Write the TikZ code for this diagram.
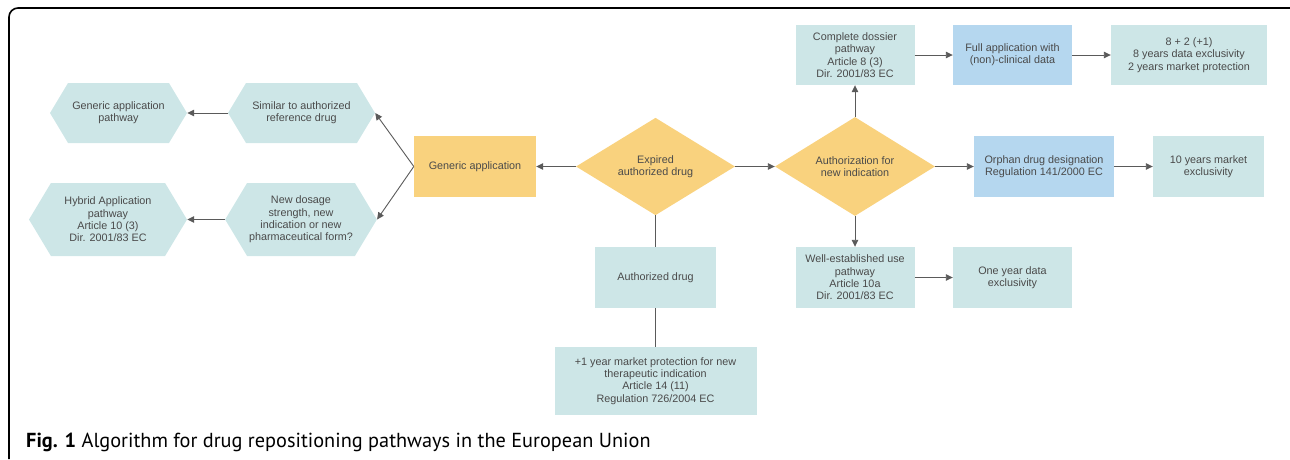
\documentclass[tikz,border=0pt]{standalone}
\usepackage{fontspec}
\setmainfont{Liberation Sans}
\newfontfamily\capfont{PT Sans}
\usetikzlibrary{arrows.meta, shapes.geometric, shapes.symbols}
\definecolor{boxteal}{HTML}{CDE6E7}
\definecolor{boxblue}{HTML}{B5D7EF}
\definecolor{boxyellow}{HTML}{F9D27E}
\definecolor{textgrey}{HTML}{4A4A4A}
\definecolor{linegrey}{HTML}{5A5A5A}

\tikzset{
  base/.style={font=\fontsize{10.8}{12.3}\selectfont, text=textgrey, align=center, inner sep=2pt},
  tealbox/.style={base, rectangle, fill=boxteal},
  bluebox/.style={base, rectangle, fill=boxblue},
  yellowbox/.style={base, rectangle, fill=boxyellow},
  hexbox/.style={base, signal, signal to=east and west, signal pointer angle=118, fill=boxteal},
  decision/.style={base, diamond, fill=boxyellow, inner sep=0pt},
  link/.style={draw=linegrey, line width=0.9pt},
  arrow/.style={link, -{Triangle[length=7pt, width=6.5pt]}},
}

\begin{document}
\begin{tikzpicture}[x=1pt, y=-1pt]
  \useasboundingbox (0,0) rectangle (1290,459);
  % frame
  \draw[line width=1.6pt, rounded corners=9pt] (9,459) -- (9,8) -- (1290,8);

  % centre row
  \node[decision, minimum width=159pt, minimum height=80pt] (expired) at (655.5,166.5) {Expired\\authorized drug};
  \node[yellowbox, minimum width=122pt, minimum height=61pt] (generic) at (475,166.5) {Generic application};
  \node[decision, minimum width=160pt, minimum height=81pt] (authz) at (855,166.5) {Authorization for\\new indication};

  % left branch
  \node[hexbox, minimum width=147pt, minimum height=60pt] (similar) at (301.5,113) {Similar to authorized\\reference drug};
  \node[hexbox, minimum width=137pt, minimum height=60pt] (genpath) at (118.5,113) {Generic application\\pathway};
  \node[hexbox, minimum width=148pt, minimum height=73pt] (newdose) at (301,219.5) {New dosage\\strength, new\\indication or new\\pharmaceutical form?};
  \node[hexbox, minimum width=158pt, minimum height=73pt] (hybrid) at (108,219.5) {Hybrid Application\\pathway\\Article 10 (3)\\Dir. 2001/83 EC};

  % bottom branch
  \node[tealbox, minimum width=121pt, minimum height=61pt] (authdrug) at (655.5,277.5) {Authorized drug};
  \node[tealbox, minimum width=202pt, minimum height=68pt] (plusone) at (655.5,381) {+1 year market protection for new\\therapeutic indication\\Article 14 (11)\\Regulation 726/2004 EC};

  % right branch
  \node[tealbox, minimum width=119pt, minimum height=60pt] (dossier) at (855,55) {Complete dossier\\pathway\\Article 8 (3)\\Dir. 2001/83 EC};
  \node[bluebox, minimum width=119pt, minimum height=60pt] (fullapp) at (1012.5,55) {Full application with\\(non)-clinical data};
  \node[tealbox, minimum width=156pt, minimum height=60pt] (eightplus) at (1189,55) {8 + 2 (+1)\\8 years data exclusivity\\2 years market protection};
  \node[bluebox, minimum width=140pt, minimum height=61pt] (orphan) at (1044,166.5) {Orphan drug designation\\Regulation 141/2000 EC};
  \node[tealbox, minimum width=111pt, minimum height=61pt] (tenyears) at (1208.5,166.5) {10 years market\\exclusivity};
  \node[tealbox, minimum width=119pt, minimum height=61pt] (wellest) at (855,277.5) {Well-established use\\pathway\\Article 10a\\Dir. 2001/83 EC};
  \node[tealbox, minimum width=119pt, minimum height=61pt] (oneyear) at (1012.5,277.5) {One year data\\exclusivity};

  % connectors
  \draw[arrow] (expired.west) -- (generic.east);
  \draw[arrow] (expired.east) -- (authz.west);
  \draw[arrow] (generic.west) -- (similar.east);
  \draw[arrow] (generic.west) -- (newdose.east);
  \draw[arrow] (similar.west) -- (genpath.east);
  \draw[arrow] (newdose.west) -- (hybrid.east);
  \draw[link] (expired.south) -- (authdrug.north);
  \draw[link] (authdrug.south) -- (plusone.north);
  \draw[arrow] (authz.north) -- (dossier.south);
  \draw[arrow] (dossier.east) -- (fullapp.west);
  \draw[arrow] (fullapp.east) -- (eightplus.west);
  \draw[arrow] (authz.east) -- (orphan.west);
  \draw[arrow] (orphan.east) -- (tenyears.west);
  \draw[arrow] (authz.south) -- (wellest.north);
  \draw[arrow] (wellest.east) -- (oneyear.west);

  % caption
  \node[anchor=base west, inner sep=0pt, font=\capfont\fontsize{20.3}{23}\selectfont] (caption) at (26,447) {\textbf{Fig. 1} Algorithm for drug repositioning pathways in the European Union};
\end{tikzpicture}
\end{document}
